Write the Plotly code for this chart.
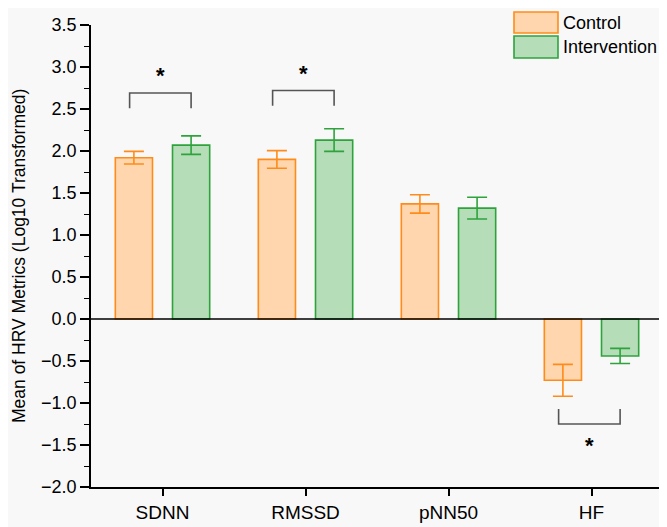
import plotly.graph_objects as go

categories = ["SDNN", "RMSSD", "pNN50", "HF"]
control_mean = [1.92, 1.90, 1.37, -0.73]
control_err = [0.075, 0.105, 0.11, 0.19]
interv_mean = [2.07, 2.13, 1.32, -0.44]
interv_err = [0.11, 0.135, 0.13, 0.09]

# significance brackets: (category index, leg end, bar level, star level)
sig_cat = [0, 1, 3]
sig_leg = [2.51, 2.54, -1.07]
sig_bar = [2.69, 2.72, -1.25]
sig_star = [2.90, 2.92, -1.50]

y_ticks = [3.5, 3.0, 2.5, 2.0, 1.5, 1.0, 0.5, 0.0, -0.5, -1.0, -1.5, -2.0]

ORANGE_LINE = "#FF8C1A"
ORANGE_FILL = "#FFD6AE"
GREEN_LINE = "#2EA33C"
GREEN_FILL = "#B5DDB8"
FONT = "Liberation Sans, Arial, sans-serif"

x_idx = list(range(len(categories)))

# page offset of the figure inside the browser (body margin)
OFF = 8
# plot area in page pixels
PL, PR, PT, PB = 91, 663, 25, 487
W, H = 667 - OFF, 527 - OFF

fig = go.Figure()
fig.add_trace(go.Bar(
    x=x_idx, y=control_mean, name="Control",
    marker=dict(color=ORANGE_FILL, line=dict(color=ORANGE_LINE, width=1.6)),
    error_y=dict(type="data", array=control_err, color=ORANGE_LINE, thickness=1.6, width=10),
    showlegend=False,
))
fig.add_trace(go.Bar(
    x=x_idx, y=interv_mean, name="Intervention",
    marker=dict(color=GREEN_FILL, line=dict(color=GREEN_LINE, width=1.6)),
    error_y=dict(type="data", array=interv_err, color=GREEN_LINE, thickness=1.6, width=10),
    showlegend=False,
))

# zero line
fig.add_shape(type="line", xref="paper", yref="y", x0=0, x1=1, y0=0, y1=0,
              line=dict(color="black", width=1.6))

# significance brackets
for c, yl, yb, ys in zip(sig_cat, sig_leg, sig_bar, sig_star):
    xa, xb = c - 0.23, c + 0.20
    fig.add_shape(type="path", xref="x", yref="y",
                  path=f"M {xa},{yl} L {xa},{yb} L {xb},{yb} L {xb},{yl}",
                  line=dict(color="#555555", width=1.6))
    fig.add_annotation(x=c - 0.015, y=ys, xref="x", yref="y", text="<b>*</b>", showarrow=False,
                       font=dict(family=FONT, size=22, color="black"))

# custom legend
def px_to_paper_x(px):
    return (px - PL) / (PR - PL)

def px_to_paper_y(py):
    return (PB - py) / (PB - PT)

for (label, fill, line, top, bot) in [("Control", ORANGE_FILL, ORANGE_LINE, 12, 33),
                                      ("Intervention", GREEN_FILL, GREEN_LINE, 36, 58)]:
    fig.add_shape(type="rect", xref="paper", yref="paper",
                  x0=px_to_paper_x(514), x1=px_to_paper_x(558),
                  y0=px_to_paper_y(bot), y1=px_to_paper_y(top),
                  fillcolor=fill, line=dict(color=line, width=1.6))
    fig.add_annotation(xref="paper", yref="paper", x=px_to_paper_x(561),
                       y=px_to_paper_y((top + bot) / 2), text=label, showarrow=False,
                       xanchor="left", yanchor="middle",
                       font=dict(family=FONT, size=18, color="black"))

# y-axis title as rotated annotation
fig.add_annotation(xref="paper", yref="paper", x=px_to_paper_x(19), y=0.5,
                   text="Mean of HRV Metrics (Log10 Transformed)", textangle=-90,
                   showarrow=False, xanchor="center", yanchor="middle",
                   font=dict(family=FONT, size=17.5, color="black"))

fig.update_layout(
    width=W, height=H,
    margin=dict(l=PL - OFF, r=667 - PR, t=PT - OFF, b=527 - PB, autoexpand=False),
    paper_bgcolor="#f8f8f8",
    plot_bgcolor="#f8f8f8",
    barmode="group",
    bargap=0.2,
    bargroupgap=0.35,
    font=dict(family=FONT, color="black"),
)
fig.update_xaxes(
    range=[-0.5, 3.5], automargin=False,
    tickmode="array", tickvals=x_idx, ticktext=categories,
    ticks="outside", ticklen=7, tickwidth=1.6, tickcolor="black",
    showline=True, linecolor="black", linewidth=1.6,
    showgrid=False, zeroline=False,
    tickfont=dict(family=FONT, size=19, color="black"),
)
fig.update_yaxes(
    range=[-2.0, 3.5], automargin=False,
    tickmode="array", tickvals=y_ticks, ticktext=[f"{v:.1f}".replace("-", "\u2212") for v in y_ticks],
    ticks="outside", ticklen=9, tickwidth=1.6, tickcolor="black",
    minor=dict(dtick=0.25, tick0=0, ticks="outside", ticklen=5, tickwidth=1.4, tickcolor="black", showgrid=False),
    showline=True, linecolor="black", linewidth=1.6,
    showgrid=False, zeroline=False,
    tickfont=dict(family=FONT, size=18, color="black"),
)

fig.write_html("out.html")
